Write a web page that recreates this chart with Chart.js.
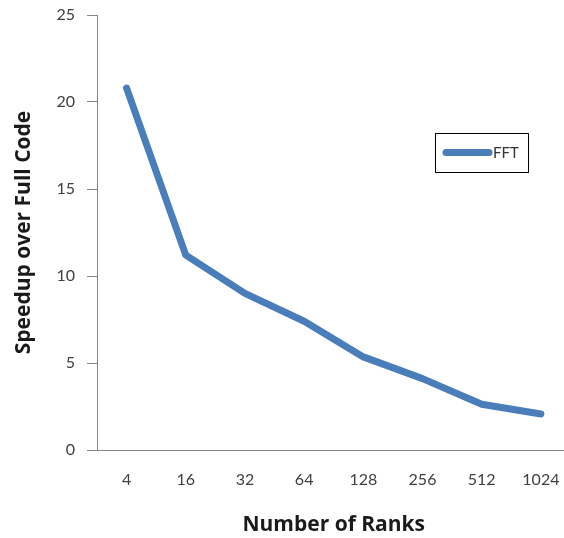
<!DOCTYPE html>
<html>
<head>
<meta charset="utf-8">
<script src="https://cdn.jsdelivr.net/npm/chart.js@4"></script>
<style>
  html, body { margin: 0; padding: 0; background: #fff; overflow: hidden; }
  #wrap { width: 580px; height: 538px; }
</style>
</head>
<body>
<div id="wrap"><canvas id="speedupChart" width="580" height="538"></canvas></div>
<script>
// data
const ranks = ["4", "16", "32", "64", "128", "256", "512", "1024"];
const fftSpeedup = [20.8, 11.2, 9.0, 7.4, 5.35, 4.1, 2.63, 2.07];
const yTicks = [0, 5, 10, 15, 20, 25];

const lineBlue = "#4a7ebb";
const axisGray = "#868686";
const tickFont = "Lato, 'Open Sans', sans-serif";
const titleFont = "'Open Sans', Lato, sans-serif";

// small legend box drawn inside the plot, like the original
const boxLegend = {
    id: "boxLegend",
    afterDraw(chart) {
        const ctx = chart.ctx;
        const ds = chart.data.datasets[0];
        ctx.save();
        ctx.strokeStyle = "#000";
        ctx.lineWidth = 1;
        ctx.strokeRect(435.5, 133.5, 93, 39);
        ctx.strokeStyle = ds.borderColor;
        ctx.lineWidth = ds.borderWidth;
        ctx.lineCap = "round";
        ctx.beginPath();
        ctx.moveTo(446, 152.5);
        ctx.lineTo(489, 152.5);
        ctx.stroke();
        ctx.fillStyle = "#333";
        ctx.font = "15px " + tickFont;
        ctx.textBaseline = "middle";
        ctx.fillText(ds.label, 493, 153);
        ctx.restore();
    }
};

var ctx = document.getElementById("speedupChart").getContext("2d");
var chart = new Chart(ctx, {
    type: "line",
    data: {
        labels: ranks,
        datasets: [{
            label: "FFT",
            data: fftSpeedup,
            borderColor: lineBlue,
            backgroundColor: lineBlue,
            borderWidth: 7,
            borderCapStyle: "round",
            borderJoinStyle: "round",
            pointRadius: 0,
            tension: 0,
            fill: false
        }]
    },
    options: {
        responsive: false,
        animation: false,
        devicePixelRatio: 1,
        layout: { padding: { top: 15, right: 9, bottom: 0, left: 0 } },
        plugins: {
            legend: { display: false },
            tooltip: { enabled: false }
        },
        scales: {
            x: {
                type: "category",
                offset: true,
                grid: { display: false, drawTicks: false },
                border: { display: true, color: axisGray, width: 1 },
                ticks: {
                    color: "#404040",
                    padding: 20,
                    maxRotation: 0,
                    font: { family: tickFont, size: 16 }
                },
                title: {
                    display: true,
                    text: "Number of Ranks",
                    color: "#1a1a1a",
                    padding: { top: 0, bottom: 0 },
                    font: { family: titleFont, size: 21, weight: "bold" }
                },
                afterFit(scale) { scale.height = 88; }
            },
            y: {
                min: 0,
                max: 25,
                afterBuildTicks(scale) {
                    scale.ticks = yTicks.map(v => ({ value: v }));
                },
                grid: {
                    drawOnChartArea: false,
                    drawTicks: true,
                    tickLength: 10,
                    color: axisGray
                },
                border: { display: true, color: axisGray, width: 1 },
                ticks: {
                    color: "#404040",
                    padding: 12,
                    font: { family: tickFont, size: 16 }
                },
                title: {
                    display: true,
                    text: "Speedup over Full Code",
                    color: "#1a1a1a",
                    padding: { top: 11, bottom: 0 },
                    font: { family: titleFont, size: 21, weight: "bold" }
                },
                afterFit(scale) {
                    scale.width = 97;
                    scale.paddingTop = 0;
                    scale.paddingBottom = 0;
                }
            }
        }
    },
    plugins: [boxLegend]
});
</script>
</body>
</html>
